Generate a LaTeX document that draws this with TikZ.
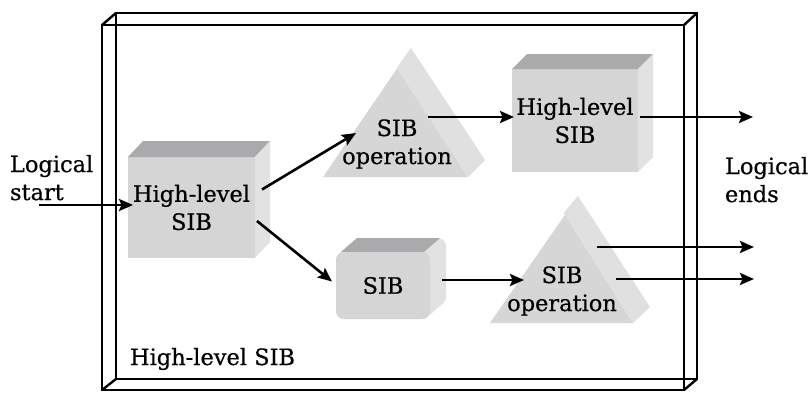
\documentclass[tikz,border=0pt]{standalone}
\usepackage{fontspec}
\setmainfont{DejaVu Serif}[FakeBold=0.5]
\usetikzlibrary{arrows.meta,calc,backgrounds}
\definecolor{facefront}{HTML}{D5D5D5}
\definecolor{facetop}{HTML}{AAAAAC}
\definecolor{faceside}{HTML}{E2E2E3}
\definecolor{pyrfront}{HTML}{D6D6D6}
\definecolor{pyrside}{HTML}{E0E0E0}
\begin{document}
\begin{tikzpicture}[x=1pt,y=-1pt,
  frameline/.style={line width=2.4pt,black,line join=miter},
  cubefront/.style={fill=facefront,inner sep=0pt,outer sep=0pt,align=center,
    font=\fontsize{22.5}{28}\selectfont},
  label/.style={inner sep=0pt,outer sep=0pt,align=left,
    font=\fontsize{22.5}{28}\selectfont},
  optext/.style={inner sep=0pt,outer sep=0pt,align=center,
    font=\fontsize{22.5}{28}\selectfont},
  flow/.style={line width=2.6pt,-{Stealth[length=14pt,width=12pt,inset=2.5pt]}}]
\useasboundingbox (0,0) rectangle (812,392);

% outer plate of the high-level SIB
\draw[frameline] (116,13) rectangle (697,379);
\draw[frameline] (102,25) rectangle (684,390);
\draw[frameline] (102,25) -- (116,13) (684,25) -- (697,13)
  (102,390) -- (116,379) (684,390) -- (697,379);

% left high-level SIB block
\node[cubefront,minimum width=127pt,minimum height=101pt] (hlA) at (191.5,207.5)
  {High-level\\SIB};
\fill[facetop] (hlA.north west) -- ++(15,-16) -- ([shift={(15,-16)}]hlA.north east)
  -- (hlA.north east) -- cycle;
\fill[faceside] (hlA.north east) -- ++(15,-16) -- ([shift={(15,-16)}]hlA.south east)
  -- (hlA.south east) -- cycle;

% right high-level SIB block
\node[cubefront,minimum width=126pt,minimum height=103pt] (hlB) at (575,120.5)
  {High-level\\SIB};
\fill[facetop] (hlB.north west) -- ++(15,-15) -- ([shift={(15,-15)}]hlB.north east)
  -- (hlB.north east) -- cycle;
\fill[faceside] (hlB.north east) -- ++(15,-15) -- ([shift={(15,-15)}]hlB.south east)
  -- (hlB.south east) -- cycle;

% rounded SIB block
\node[cubefront,rounded corners=8pt,minimum width=94pt,minimum height=67pt] (sib)
  at (383,285.5) {SIB};
\begin{scope}[on background layer]
  \foreach \k in {0,1,...,16}
    \fill[faceside,rounded corners=8pt]
      ([shift={(\k,-0.875*\k)}]sib.north west) rectangle ([shift={(\k,-0.875*\k)}]sib.south east);
  \fill[facetop] ([shift={(5,0)}]sib.north west) -- ([shift={(21,-14)}]sib.north west)
    -- ([shift={(10,-14)}]sib.north east) -- ([shift={(-6,0)}]sib.north east) -- cycle;
\end{scope}

% upper SIB operation prism
\fill[pyrfront] (323,177) -- (411,48) -- (397,68) -- (468,177) -- cycle;
\fill[pyrside] (397,68) -- (411,48) -- (485,160) -- (468,177) -- cycle;
\node[optext] (opA) at (397,144) {SIB\\operation};

% lower SIB operation prism
\fill[pyrfront] (490,323) -- (578,196) -- (564,213) -- (633,323) -- cycle;
\fill[pyrside] (564,213) -- (578,196) -- (650,307) -- (633,323) -- cycle;
\node[optext] (opB) at (562,291) {SIB\\operation};

% free ends of the flows
\coordinate (start) at (39,205);
\coordinate (endA) at (753,117);
\coordinate (endB) at (754,247);
\coordinate (endC) at (754,279);

% flows
\draw[flow] (start) -- ([xshift=5]hlA.west |- start);
\draw[flow] ([shift={(7,-18)}]hlA.east) -- ([shift={(-41,-11)}]opA.center);
\draw[flow] ([shift={(2,13.5)}]hlA.east) -- ([shift={(-4,-4)}]sib.west);
\draw[flow] ([shift={(31,-27)}]opA.center) -- ([xshift=2]hlB.west |- endA);
\draw[flow] ([xshift=2]hlB.east |- endA) -- (endA);
\draw[flow] ([xshift=12]sib.east |- 0,280) -- ([shift={(-38,-11)}]opB.center);
\draw[flow] ([shift={(35,-44)}]opB.center) -- (endB);
\draw[flow] ([shift={(54,-12)}]opB.center) -- (endC);

% labels
\node[label,anchor=north west] (lstart) at (10,155) {Logical\\start};
\node[label,anchor=north west] (lends) at (725,157) {Logical\\ends};
\node[label,anchor=base west] (lplate) at (130,365) {High-level SIB};
\end{tikzpicture}
\end{document}
